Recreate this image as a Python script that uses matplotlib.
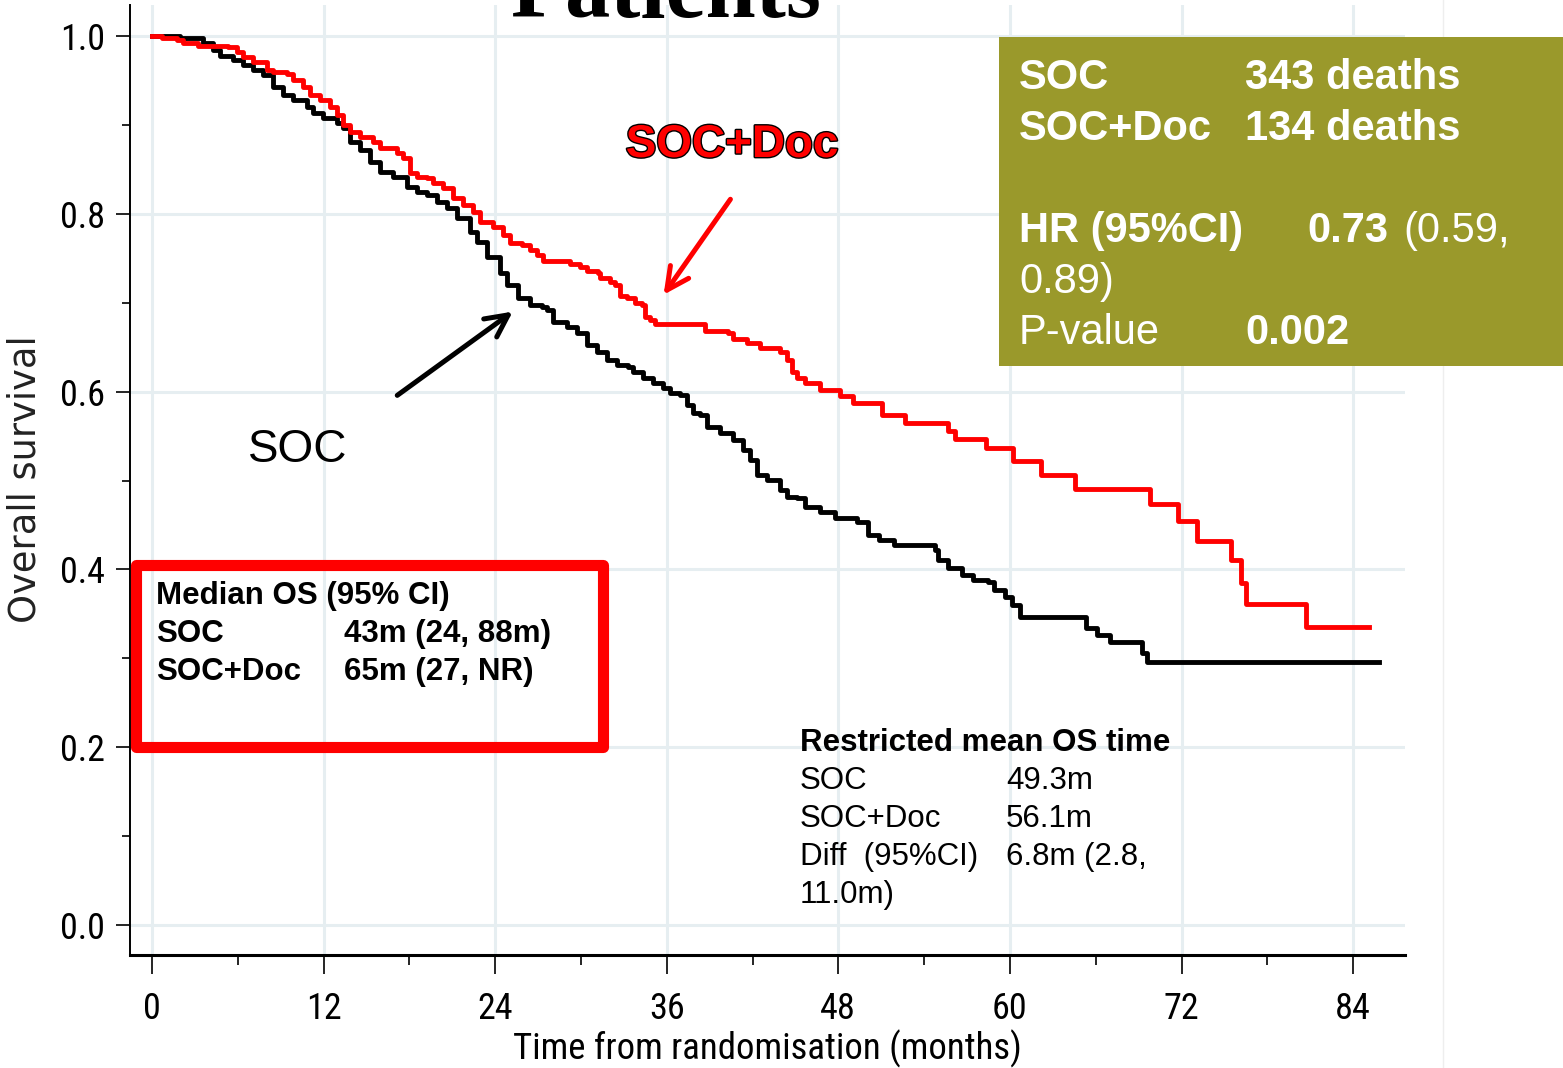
import matplotlib
matplotlib.use("Agg")
from matplotlib import pyplot as plt
from matplotlib import font_manager
from matplotlib.patches import Rectangle
from matplotlib.lines import Line2D
import matplotlib.patheffects as pe

# Kaplan-Meier step points: months from randomisation and overall survival
soc_months = [0.00, 1.96, 3.57, 4.27, 4.76, 5.67, 6.36, 7.06, 7.76, 8.46, 9.16, 9.86,
              10.84, 11.26, 11.96, 12.94, 13.36, 13.85, 14.55, 15.25, 15.95, 16.86,
              17.83, 18.53, 19.23, 19.93, 20.63, 21.33, 22.24, 22.73, 23.43, 24.34,
              24.83, 25.60, 26.44, 27.28, 27.63, 28.05, 29.03, 29.73, 30.43, 31.12,
              31.82, 32.52, 33.29, 33.64, 34.34, 35.04, 35.74, 36.23, 36.93, 37.42,
              37.84, 38.33, 38.82, 39.73, 40.63, 41.33, 41.82, 42.31, 43.01, 43.92,
              44.41, 45.11, 45.67, 46.72, 47.77, 49.31, 50.08, 50.85, 51.90, 54.76,
              54.97, 55.67, 56.65, 57.42, 58.47, 58.89, 59.66, 60.15, 60.71, 65.32,
              66.09, 67.00, 69.24, 69.59, 85.82]
soc_surv = [1.000, 0.998, 0.992, 0.984, 0.977, 0.973, 0.967, 0.962, 0.956, 0.943, 0.934,
            0.928, 0.920, 0.913, 0.908, 0.902, 0.897, 0.881, 0.872, 0.858, 0.847, 0.841,
            0.830, 0.825, 0.821, 0.813, 0.807, 0.795, 0.780, 0.768, 0.751, 0.733, 0.720,
            0.705, 0.697, 0.695, 0.692, 0.678, 0.673, 0.666, 0.652, 0.645, 0.636, 0.630,
            0.628, 0.622, 0.615, 0.610, 0.604, 0.598, 0.596, 0.585, 0.576, 0.574, 0.560,
            0.553, 0.546, 0.534, 0.523, 0.506, 0.501, 0.489, 0.481, 0.480, 0.470, 0.465,
            0.458, 0.453, 0.439, 0.433, 0.427, 0.422, 0.411, 0.402, 0.394, 0.388, 0.386,
            0.377, 0.369, 0.360, 0.346, 0.334, 0.326, 0.318, 0.306, 0.296, 0.296]

doc_months = [0.00, 0.70, 1.75, 2.17, 3.22, 5.32, 5.94, 6.36, 7.06, 8.04, 8.46, 9.44,
              9.86, 10.56, 11.05, 11.75, 12.45, 12.94, 13.36, 13.85, 14.55, 15.46,
              15.95, 17.14, 17.55, 18.04, 18.53, 19.23, 19.65, 20.35, 21.05, 21.75,
              22.45, 22.94, 23.85, 24.55, 25.04, 25.88, 26.44, 26.93, 27.35, 29.23,
              29.93, 30.42, 31.19, 31.33, 32.03, 32.38, 32.73, 33.22, 33.78, 34.27,
              34.48, 34.83, 35.18, 38.68, 40.29, 40.63, 41.61, 42.52, 43.92, 44.41,
              44.76, 45.11, 45.67, 46.72, 48.12, 49.03, 51.06, 52.66, 55.67, 56.16,
              58.33, 60.22, 62.18, 64.55, 69.80, 71.76, 73.09, 75.46, 76.16, 76.51,
              80.71, 85.12]
doc_surv = [1.000, 0.998, 0.996, 0.992, 0.989, 0.988, 0.982, 0.976, 0.971, 0.962, 0.960,
            0.957, 0.951, 0.943, 0.934, 0.928, 0.920, 0.911, 0.900, 0.892, 0.886, 0.881,
            0.874, 0.868, 0.863, 0.846, 0.841, 0.840, 0.835, 0.829, 0.818, 0.810, 0.802,
            0.791, 0.785, 0.776, 0.767, 0.765, 0.759, 0.754, 0.747, 0.744, 0.740, 0.736,
            0.733, 0.728, 0.723, 0.720, 0.708, 0.705, 0.700, 0.697, 0.684, 0.681, 0.676,
            0.668, 0.666, 0.659, 0.655, 0.649, 0.645, 0.636, 0.622, 0.615, 0.610, 0.602,
            0.595, 0.587, 0.574, 0.565, 0.556, 0.547, 0.537, 0.522, 0.506, 0.490, 0.474,
            0.454, 0.432, 0.411, 0.385, 0.361, 0.335, 0.335]

x_ticks = [0, 12, 24, 36, 48, 60, 72, 84]
y_ticks = [0.0, 0.2, 0.4, 0.6, 0.8, 1.0]
y_tick_labels = ["0.0", "0.2", "0.4", "0.6", "0.8", "1.0"]

median_rows = [("Median OS (95% CI)", ""),
               ("SOC", "43m (24, 88m)"),
               ("SOC+Doc", "65m (27, NR)")]
rmst_rows = [("SOC", "49.3m"),
             ("SOC+Doc", "56.1m"),
             ("Diff  (95%CI)", "6.8m (2.8,"),
             ("11.0m)", "")]

W, H = 1563, 1068


def fx(x):
    return x / W


def fy(y):
    return 1 - y / H


# narrow face for the axis text
installed = {f.name for f in font_manager.fontManager.ttflist}
narrow = "DejaVu Sans"
for cand in ["Roboto Condensed", "PT Sans Narrow", "Archivo Narrow", "Fira Sans Condensed",
             "IBM Plex Sans Condensed", "Encode Sans Condensed", "Liberation Sans Narrow"]:
    if cand in installed:
        narrow = cand
        break
sans = "Liberation Sans"

fig = plt.figure(figsize=(W / 100, H / 100), dpi=100)
fig.patch.set_facecolor("white")

ax = fig.add_axes([fx(130), fy(955), fx(1405) - fx(130), fy(5) - fy(955)])
ax.set_xlim(-1.54, 87.63)
ax.set_ylim(-0.0337, 1.0349)

grid_col = "#E6EEF1"
for x in x_ticks:
    ax.axvline(x, color=grid_col, lw=2.2, zorder=0)
for y in y_ticks:
    ax.axhline(y, color=grid_col, lw=2.2, zorder=0)

ax.step(soc_months, soc_surv, where="post", color="black", lw=3.5, zorder=3)
ax.step(doc_months, doc_surv, where="post", color="#FF0000", lw=3.5, zorder=3)

for s in ["top", "right"]:
    ax.spines[s].set_visible(False)
ax.spines["left"].set_linewidth(1.4)
ax.spines["bottom"].set_linewidth(2.2)

ax.set_xticks(x_ticks)
ax.set_xticks([6, 18, 30, 42, 54, 66, 78], minor=True)
ax.set_yticks(y_ticks)
ax.set_yticklabels(y_tick_labels)
ax.set_yticks([0.1, 0.3, 0.5, 0.7, 0.9], minor=True)
ax.tick_params(axis="x", which="major", length=14, width=1.2, pad=12,
               labelsize=26, direction="out")
ax.tick_params(axis="x", which="minor", length=7, width=1.2, direction="out")
ax.tick_params(axis="y", which="major", length=10, width=1.2, pad=8,
               labelsize=26, direction="out")
ax.tick_params(axis="y", which="minor", length=6, width=1.2, direction="out")
for lab in ax.get_xticklabels() + ax.get_yticklabels():
    lab.set_family(narrow)

ax.set_xlabel("Time from randomisation (months)", family=narrow, fontsize=26.5, labelpad=2)
fig.text(fx(25), fy(479), "Overall survival", rotation=90, family="DejaVu Sans",
         fontsize=26.5, ha="center", va="center", color="#222222")

# slide title, cut off by the top edge
fig.text(fx(666), fy(17), "Patients", family="Liberation Serif", weight="bold",
         fontsize=65, ha="center", va="baseline")

# faint slide border on the right
fig.add_artist(Line2D([fx(1443), fx(1443)], [0, 1], color="#EEEEEE", lw=1))

# curve labels and arrows
fig.text(fx(732), fy(157), "SOC+Doc", family=sans, weight="bold", fontsize=33,
         color="#FF0000", ha="center", va="baseline",
         path_effects=[pe.withStroke(linewidth=2, foreground="black")])
fig.text(fx(298), fy(462), "SOC", family=sans, fontsize=33, color="black",
         ha="center", va="baseline")
ax.annotate("", xy=(fx(662), fy(297)), xytext=(fx(732), fy(197)),
            xycoords="figure fraction", textcoords="figure fraction",
            arrowprops=dict(arrowstyle="->", color="#FF0000", lw=3.6, mutation_scale=40))
ax.annotate("", xy=(fx(515), fy(310)), xytext=(fx(395), fy(397)),
            xycoords="figure fraction", textcoords="figure fraction",
            arrowprops=dict(arrowstyle="->", color="black", lw=3.6, mutation_scale=40))

# median OS box
fig.add_artist(Rectangle((fx(136), fy(746.5)), fx(602.5) - fx(136), fy(564.5) - fy(746.5),
                         transform=fig.transFigure, fill=False, edgecolor="#FF0000",
                         lw=8, joinstyle="round", zorder=5))
for i, (a, b) in enumerate(median_rows):
    yb = fy(604 + 38 * i)
    fig.text(fx(156), yb, a, family=sans, weight="bold", fontsize=22.5, va="baseline")
    if b:
        fig.text(fx(344), yb, b, family=sans, weight="bold", fontsize=22.5, va="baseline")

# restricted mean survival time
fig.text(fx(800), fy(751), "Restricted mean OS time", family=sans, weight="bold",
         fontsize=22.5, va="baseline")
for i, (a, b) in enumerate(rmst_rows):
    yb = fy(789 + 38 * i)
    fig.text(fx(800), yb, a, family=sans, fontsize=22.5, va="baseline")
    if b:
        fig.text(fx(1006), yb, b, family=sans, fontsize=22.5, va="baseline")

# deaths / hazard ratio panel
olive = "#9A992B"
fig.add_artist(Rectangle((fx(999), fy(366)), 1 - fx(999), fy(37) - fy(366),
                         transform=fig.transFigure, facecolor=olive, edgecolor="none",
                         zorder=6))
box_kw = dict(family=sans, fontsize=30, color="white", va="baseline", zorder=7)
fig.text(fx(1019), fy(89), "SOC", weight="bold", **box_kw)
fig.text(fx(1245), fy(89), "343 deaths", weight="bold", **box_kw)
fig.text(fx(1019), fy(140), "SOC+Doc", weight="bold", **box_kw)
fig.text(fx(1245), fy(140), "134 deaths", weight="bold", **box_kw)
fig.text(fx(1019), fy(242), "HR (95%CI)", weight="bold", **box_kw)
fig.text(fx(1307), fy(242), "0.73", weight="bold", **box_kw)
fig.text(fx(1403), fy(242), "(0.59,", **box_kw)
fig.text(fx(1019), fy(293), "0.89)", **box_kw)
fig.text(fx(1019), fy(344), "P-value", **box_kw)
fig.text(fx(1245), fy(344), "0.002", weight="bold", **box_kw)

fig.savefig("out.png", dpi=100)
